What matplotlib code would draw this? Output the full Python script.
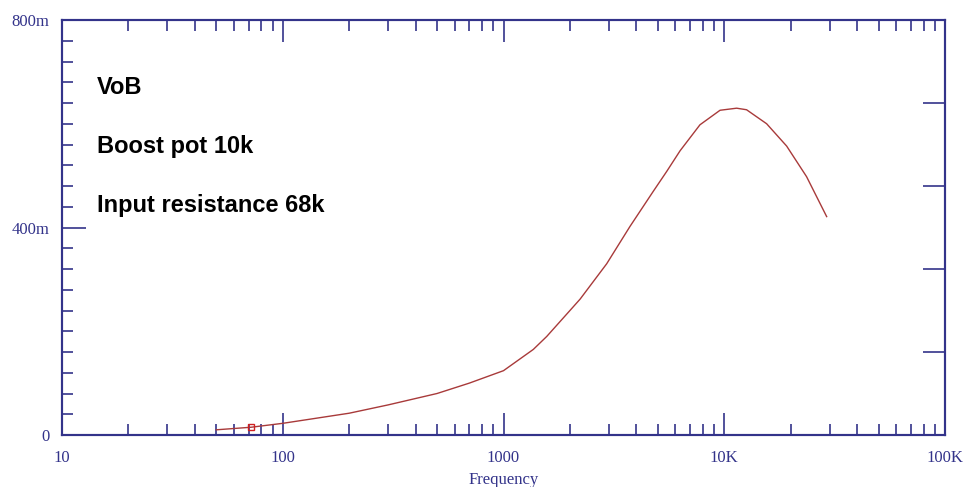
import numpy as np
import matplotlib.pyplot as plt
from matplotlib.ticker import FixedLocator, NullFormatter

# response curve (Hz, volts)
freq = [50, 72, 100, 200, 300, 500, 700, 1000, 1365, 1570, 2000, 2224, 2933,
        3740, 4774, 5485, 6310, 7762, 9570, 11380, 12620, 15560, 19170, 23600,
        29100]
vout = [0.010, 0.015, 0.0225, 0.042, 0.058, 0.080, 0.100, 0.124, 0.165, 0.190,
        0.240, 0.262, 0.330, 0.402, 0.470, 0.508, 0.548, 0.598, 0.626, 0.630,
        0.627, 0.600, 0.557, 0.498, 0.421]
marker_f = [72]
marker_v = [0.015]

x_ticks = [10, 100, 1000, 10000, 100000]
x_labels = ['10', '100', '1000', '10K', '100K']
y_ticks = [0, 0.4, 0.8]
y_labels = ['0', '400m', '800m']
notes = ['VoB', 'Boost pot 10k', 'Input resistance 68k']

navy = '#33338a'
curve = '#a83a3a'

fig = plt.figure(figsize=(9.67, 4.87), dpi=100)
ax = fig.add_axes([62 / 967, 52 / 487, 883 / 967, 415 / 487])

ax.plot(freq, vout, color=curve, lw=1.0)
ax.plot(marker_f, marker_v, 's', ms=5, mfc='none', mec='#d02020', mew=1.0)

ax.set_xscale('log')
ax.set_xlim(10, 100000)
ax.set_ylim(0, 0.8)

ax.xaxis.set_major_locator(FixedLocator(x_ticks))
ax.set_xticklabels(x_labels)
minor_x = [m * d for d in [10, 100, 1000, 10000] for m in range(2, 10)]
ax.xaxis.set_minor_locator(FixedLocator(minor_x))
ax.xaxis.set_minor_formatter(NullFormatter())

ax.set_yticks(y_ticks)
ax.set_yticklabels(y_labels)
ax.yaxis.set_minor_locator(FixedLocator(np.arange(0, 0.801, 0.04)))

serif = 'Liberation Serif'
for lab in ax.get_xticklabels() + ax.get_yticklabels():
    lab.set_fontfamily(serif)
    lab.set_fontsize(12)
    lab.set_color(navy)

ax.tick_params(axis='x', which='both', direction='in', top=True, bottom=True,
               color=navy, width=1.2, pad=11)
ax.tick_params(axis='x', which='major', length=16)
ax.tick_params(axis='x', which='minor', length=8)
ax.tick_params(axis='y', which='both', direction='in', left=True, right=False,
               color=navy, width=1.2, pad=9)
ax.tick_params(axis='y', which='major', length=17)
ax.tick_params(axis='y', which='minor', length=8)

# right side has its own coarser ticks
ax2 = ax.twinx()
ax2.set_ylim(0, 0.8)
ax2.set_yticks([0.16, 0.32, 0.48, 0.64])
ax2.set_yticklabels([])
ax2.tick_params(axis='y', direction='in', length=16, width=1.2, color=navy)

for a in (ax, ax2):
    for s in a.spines.values():
        s.set_color(navy)
        s.set_linewidth(1.5)

ax.set_xlabel('Frequency', fontfamily=serif, fontsize=12, color=navy, labelpad=4)

# notes, placed in figure pixels measured from the top
for i, t in enumerate(notes):
    fig.text(97 / 967, 1 - (88 + i * 59) / 487, t,
             fontfamily='Liberation Sans', fontweight='bold', fontsize=17,
             va='center', ha='left', color='black')

fig.savefig('out.png', dpi=100)
